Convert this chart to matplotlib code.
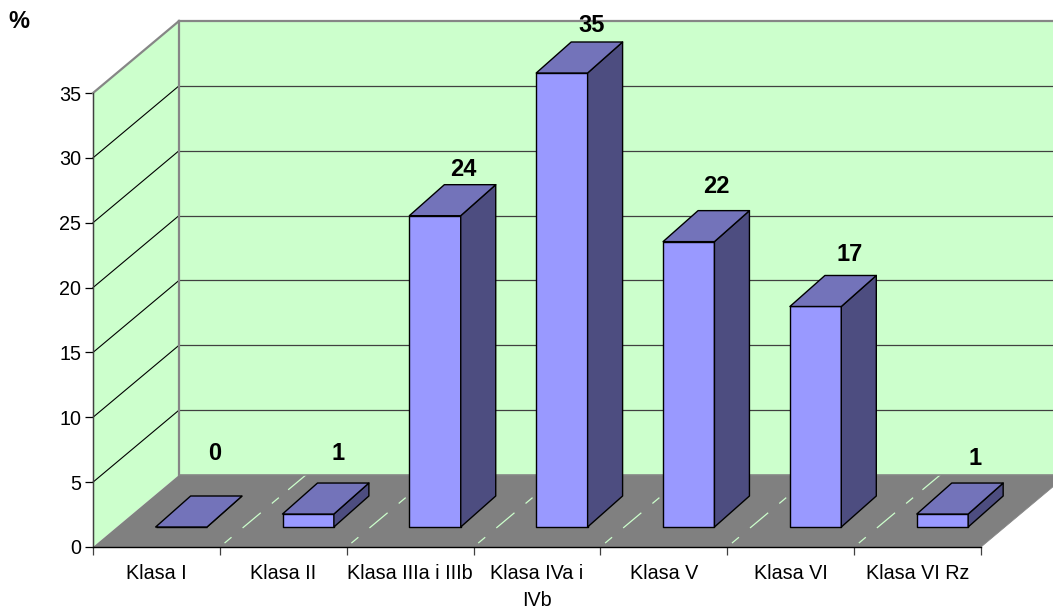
import matplotlib
matplotlib.use("Agg")
import numpy as np
from matplotlib import pyplot as plt

categories = ["Klasa I", "Klasa II", "Klasa IIIa i IIIb", "Klasa IVa i\nIVb", "Klasa V", "Klasa VI", "Klasa VI Rz"]
values = [0, 1, 24, 35, 22, 17, 1]
y_ticks = [0, 5, 10, 15, 20, 25, 30, 35]

# offset of the label from the top of the bar, in pixels
label_up = [74, 61, 46, 48, 55, 52, 56]
label_right = [33, 30, 28, 30, 28, 34, 33]

W, H = 1053, 609
plt.rcParams['font.family'] = ['Liberation Sans', 'DejaVu Sans']

fig = plt.figure(figsize=(W / 100, H / 100), dpi=100)
ax = fig.add_axes([0, 0, 1, 1])
ax.patch.set_visible(False)

# pixels per unit, used only to place the axes over the whole figure
px_x = 888 / 7
px_y = 454 / 35
ax.set_xlim(-93 / px_x, (W - 93) / px_x)
ax.set_ylim(-(H - 547) / px_y, 547 / px_y)

# depth of the oblique projection in data units
dx = 86 / px_x
dy = 72 / px_y

def pt(x, v, d):
    return x + d * dx, v + d * dy

def poly(corners, **kw):
    xs, ys = zip(*[pt(*c) for c in corners])
    ax.fill(xs, ys, **kw)

def seg(a, b, **kw):
    xs, ys = zip(pt(*a), pt(*b))
    ax.plot(xs, ys, **kw)

n = len(categories)
top = max(y_ticks)
wall_col = "#CCFFCC"
floor_col = "#808080"
edge_col = "#868686"

# walls and floor
poly([(0, 0, 0), (0, 0, 1), (0, top, 1), (0, top, 0)], color=wall_col, lw=0, zorder=1)
poly([(0, 0, 1), (n, 0, 1), (n, top, 1), (0, top, 1)], color=wall_col, lw=0, zorder=1)
poly([(0, 0, 0), (n, 0, 0), (n, 0, 1), (0, 0, 1)], color=floor_col, lw=0, zorder=1)

# grid on the walls
for v in y_ticks[1:-1]:
    seg((0, v, 0), (0, v, 1), color="black", lw=0.8, zorder=2)
    seg((0, v, 1), (n, v, 1), color="#404040", lw=0.9, zorder=2)

# the floor grid only shows as broken pieces
pieces = [(0.06, 0.13), (0.27, 0.47), (0.61, 0.68), (0.80, 1.0)]
for i in range(1, n):
    for a, b in pieces:
        seg((i, 0, a), (i, 0, b), color="#CCFFCC", lw=0.9, zorder=2)

seg((0, 0, 0), (0, top, 0), color="#404040", lw=1, zorder=2)
seg((0, top, 0), (0, top, 1), color=edge_col, lw=1.6, zorder=3)
seg((0, 0, 1), (0, top, 1), color=edge_col, lw=1.6, zorder=3)
seg((0, top, 1), (n, top, 1), color=edge_col, lw=1.6, zorder=3)
seg((0, 0, 1), (n, 0, 1), color=edge_col, lw=1.2, zorder=3)
seg((n, 0, 0), (n, 0, 1), color=edge_col, lw=0.6, zorder=3)

# bars
bar_w = 0.405
shift = 0.008
back = 0.016  # bars lean a little less than the floor
d0, d1 = 20 / 72, 51 / 72
for i, v in enumerate(values):
    l = i + 0.5 - bar_w / 2 + shift
    r = l + bar_w
    style = dict(ec="black", lw=1.0, joinstyle="round", zorder=5)
    poly([(l, 0, d0), (r, 0, d0), (r, v, d0), (l, v, d0)], fc="#9999FF", **style)
    poly([(r, 0, d0), (r - back, 0, d1), (r - back, v, d1), (r, v, d0)], fc="#4D4D80", **style)
    poly([(l, v, d0), (r, v, d0), (r - back, v, d1), (l - back, v, d1)], fc="#7373BA", **style)
    x_lab, y_lab = pt(i + 0.5 + shift, v, d0)
    ax.annotate(str(v), (x_lab, y_lab), xytext=(label_right[i] * 0.72, label_up[i] * 0.72),
                textcoords="offset points", ha="center", va="center",
                fontsize=17, fontweight="bold", zorder=7)

# axes, real ticks at the front edge
for s in ["top", "right"]:
    ax.spines[s].set_visible(False)
ax.spines["left"].set_position(("data", 0))
ax.spines["bottom"].set_position(("data", 0))
ax.spines["left"].set_bounds(0, top)
ax.spines["bottom"].set_bounds(0, n)
ax.spines["left"].set_color("#404040")
ax.spines["bottom"].set_linewidth(1.0)
ax.spines["left"].set_zorder(6)
ax.spines["bottom"].set_zorder(6)

ax.set_yticks(y_ticks)
ax.tick_params(axis="y", length=5.8, width=0.9, pad=2.5, labelsize=14.2)
ax.set_xticks(np.arange(n + 1))
ax.set_xticklabels([])
ax.tick_params(axis="x", which="major", length=5.8, width=0.9, color="#404040")
ax.set_xticks(np.arange(n) + 0.5, minor=True)
ax.set_xticklabels(categories, minor=True, fontsize=14.2, linespacing=1.53)
ax.tick_params(axis="x", which="minor", length=0, pad=12)

fig.text(19 / W, 1 - 22 / H, "%", fontsize=17, fontweight="bold", ha="center", va="center")

fig.savefig("out.png", dpi=100)
